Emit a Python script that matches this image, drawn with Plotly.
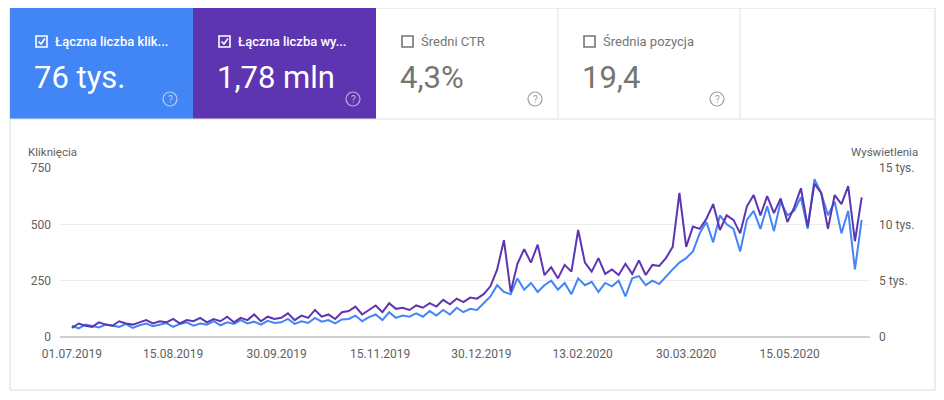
import plotly.graph_objects as go
import pandas as pd

start_date = "2019-07-01"
step_days = 3

clicks = [
    50,38,55,48,42,55,50,45,58,40,52,
    60,48,55,62,45,58,65,50,60,55,
    70,52,65,58,75,60,68,55,72,62,
    65,80,58,70,62,85,68,75,60,78,
    80,95,70,88,100,75,110,85,95,90,
    105,90,115,95,120,100,130,110,125,120,
    150,180,230,200,190,260,210,240,200,230,
    250,210,240,190,260,230,245,200,240,225,
    250,180,260,270,230,250,235,270,300,330,
    350,380,460,510,420,540,500,480,380,520,
    560,480,580,470,600,540,560,620,480,700,
    640,540,600,460,560,300,520,
]
impressions = [
    800,1200,1000,900,1300,1100,1000,1400,1200,1100,1300,
    1500,1200,1400,1300,1600,1200,1500,1400,1700,1300,
    1600,1400,1800,1300,1700,1500,2000,1400,1800,1600,
    1700,2100,1500,1900,1700,2400,1800,2000,1600,2200,
    2300,2700,2000,2400,2800,2200,3000,2500,2600,2400,
    2800,2600,3000,2700,3300,2900,3400,3100,3500,3400,
    3800,4500,6000,8600,4000,6500,7800,6600,8200,5500,
    6200,5200,6400,5800,9500,6600,5800,7000,5600,6000,
    5500,6500,5600,6800,5500,6400,6300,7000,8000,12800,
    8000,9800,9600,10500,11800,9500,10800,10400,9200,11600,
    12600,10800,12500,11000,12300,10200,11500,13200,9800,13600,
    12800,9600,12600,11800,13400,8500,12400,
]
dates = pd.date_range(start_date, periods=len(clicks), freq=f"{step_days}D")

tick_dates = ["2019-07-01","2019-08-15","2019-09-30","2019-11-15","2019-12-30","2020-02-13","2020-03-30","2020-05-15"]
tick_labels = ["01.07.2019","15.08.2019","30.09.2019","15.11.2019","30.12.2019","13.02.2020","30.03.2020","15.05.2020"]
left_ticks = [0, 250, 500, 750]
right_ticks = [0, 5000, 10000, 15000]
right_labels = ["0", "5 tys.", "10 tys.", "15 tys."]

cards = [
    ("Łączna liczba klik...", "76 tys.", "#4285f4", True),
    ("Łączna liczba wy...", "1,78 mln", "#5e35b1", True),
    ("Średni CTR", "4,3%", "#ffffff", False),
    ("Średnia pozycja", "19,4", "#ffffff", False),
]

W, H = 944, 400
OX, OY = 8, 8  # page body margin
def px(x): return (x - OX) / W
def py(y): return 1 - (y - OY) / H

fig = go.Figure()
fig.add_trace(go.Scatter(x=dates, y=clicks, mode="lines", line=dict(color="#4285f4", width=2), yaxis="y"))
fig.add_trace(go.Scatter(x=dates, y=impressions, mode="lines", line=dict(color="#5e35b1", width=2), yaxis="y2"))

x0 = pd.Timestamp(start_date) - pd.Timedelta(days=5.3)
x1 = pd.Timestamp(start_date) + pd.Timedelta(days=354.7)

font = "Roboto"
shapes, ann = [], []
shapes.append(dict(type="rect", xref="paper", yref="paper", x0=px(10), x1=px(935), y0=py(390), y1=py(8),
                   line=dict(color="#dcdcdc", width=1), fillcolor="rgba(0,0,0,0)", layer="below"))
shapes.append(dict(type="line", xref="paper", yref="paper", x0=px(10), x1=px(935), y0=py(119), y1=py(119),
                   line=dict(color="#e0e0e0", width=1)))
cx = [10, 193, 376, 558, 740]
for i, (lab, val, bg, checked) in enumerate(cards):
    a, b = cx[i], cx[i+1]
    fg = "#ffffff" if checked else "#757575"
    if checked:
        shapes.append(dict(type="rect", xref="paper", yref="paper", x0=px(a), x1=px(b), y0=py(119), y1=py(8),
                           fillcolor=bg, line=dict(width=0), layer="below"))
    else:
        shapes.append(dict(type="line", xref="paper", yref="paper", x0=px(b), x1=px(b), y0=py(119), y1=py(8),
                           line=dict(color="#e0e0e0", width=1)))
    shapes.append(dict(type="rect", xref="paper", yref="paper", x0=px(a+26), x1=px(a+37), y0=py(47), y1=py(36),
                       line=dict(color=fg, width=1.6), fillcolor="rgba(0,0,0,0)"))
    if checked:
        shapes.append(dict(type="path", xref="paper", yref="paper",
                           path=f"M {px(a+28.5)} {py(41.5)} L {px(a+31)} {py(44)} L {px(a+35)} {py(38.5)}",
                           line=dict(color=fg, width=1.6)))
    ann.append(dict(text=lab, x=px(a+43), y=py(41.5), xref="paper", yref="paper", xanchor="left", yanchor="middle",
                    showarrow=False, font=dict(family=font, size=13, color=fg,
                                               weight=500 if checked else 400)))
    ann.append(dict(text=val, x=px(a+22), y=py(77), xref="paper", yref="paper", xanchor="left", yanchor="middle",
                    showarrow=False, font=dict(family=font, size=31, color=fg)))
    qc = "rgba(255,255,255,0.6)" if checked else "#9e9e9e"
    shapes.append(dict(type="circle", xref="paper", yref="paper", x0=px(b-30), x1=px(b-16), y0=py(106), y1=py(92),
                       line=dict(color=qc, width=1.2)))
    ann.append(dict(text="?", x=px(b-23), y=py(99), xref="paper", yref="paper", xanchor="center", yanchor="middle",
                    showarrow=False, font=dict(family=font, size=10, color=qc)))

ann.append(dict(text="Kliknięcia", x=px(26), y=py(152), xref="paper", yref="paper", xanchor="left", yanchor="middle",
                showarrow=False, font=dict(family=font, size=11.5, color="#616161")))
ann.append(dict(text="Wyświetlenia", x=px(920), y=py(152), xref="paper", yref="paper", xanchor="right", yanchor="middle",
                showarrow=False, font=dict(family=font, size=11.5, color="#616161")))

tf = dict(family=font, size=12, color="#616161")
fig.update_layout(
    width=W, height=H, margin=dict(l=0, r=0, t=0, b=0, autoexpand=False),
    paper_bgcolor="white", plot_bgcolor="white", showlegend=False,
    xaxis=dict(domain=[px(60), px(870)], range=[x0, x1], tickvals=tick_dates, ticktext=tick_labels,
               showgrid=False, zeroline=False, tickfont=tf, ticks="", showline=False, automargin=False,
               ticklabelstandoff=8),
    yaxis=dict(domain=[py(337), py(168)], range=[0, 750], tickvals=left_ticks, gridcolor="#ececec",
               zeroline=False, tickfont=tf, ticklabelstandoff=8, automargin=False),
    yaxis2=dict(overlaying="y", side="right", range=[0, 15000], tickvals=right_ticks, ticktext=right_labels,
                showgrid=False, zeroline=False, tickfont=tf, anchor="x", ticklabelstandoff=8, automargin=False),
    shapes=shapes + [dict(type="line", xref="paper", yref="paper", x0=px(60), x1=px(870), y0=py(337), y1=py(337),
                          line=dict(color="#9e9e9e", width=1))],
    annotations=ann,
)
fig.write_html("out.html")
